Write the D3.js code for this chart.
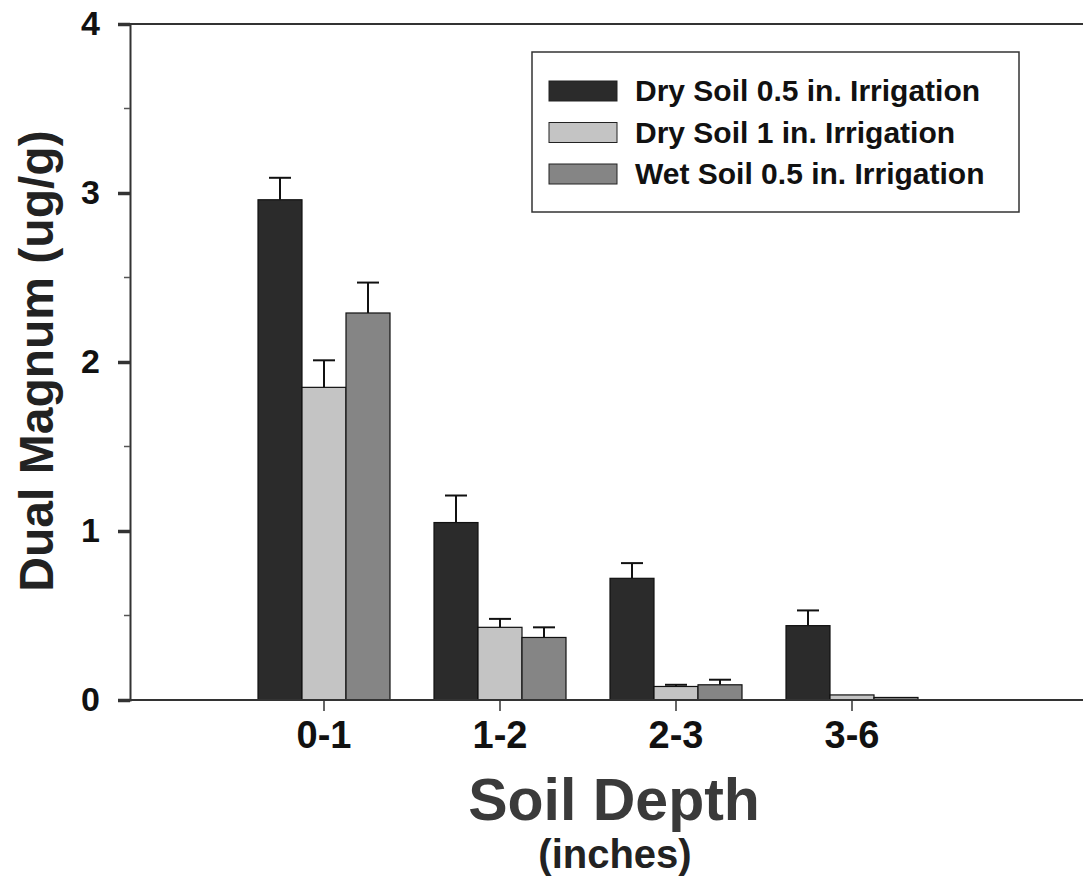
<!DOCTYPE html>
<html>
<head>
<meta charset="utf-8">
<script src="https://cdn.jsdelivr.net/npm/d3@7/dist/d3.min.js"></script>
<style>
  body { margin: 0; background: #fff; }
  text { font-family: "Liberation Sans", Arial, sans-serif; font-weight: bold; }
</style>
</head>
<body>
<svg id="chart" width="1083" height="878"></svg>
<script>
// data
var depths = ["0-1", "1-2", "2-3", "3-6"];
var seriesNames = ["Dry Soil 0.5 in. Irrigation", "Dry Soil 1 in. Irrigation", "Wet Soil 0.5 in. Irrigation"];
var drySoil05 = [2.96, 1.05, 0.72, 0.44];
var drySoil1 = [1.85, 0.43, 0.08, 0.03];
var wetSoil05 = [2.29, 0.37, 0.09, 0.015];
var drySoil05Err = [0.13, 0.16, 0.09, 0.09];
var drySoil1Err = [0.16, 0.05, 0.01, 0];
var wetSoil05Err = [0.18, 0.06, 0.03, 0];
var yTicks = [0, 1, 2, 3, 4];
var yMinor = [0.5, 1.5, 2.5, 3.5];

var values = [drySoil05, drySoil1, wetSoil05];
var errs = [drySoil05Err, drySoil1Err, wetSoil05Err];
var colors = ["#2b2b2b", "#c4c4c4", "#858585"];

var svg = d3.select("svg");

var plotLeft = 130, plotRight = 1083, plotTop = 24, plotBottom = 700;

var y = d3.scaleLinear().domain([0, 4]).range([plotBottom, plotTop]);
var x0 = d3.scaleBand().domain(depths).range([236, 940])
  .paddingInner(0.25).paddingOuter(0.125);
var x1 = d3.scaleBand().domain(d3.range(3)).range([0, x0.bandwidth()]);

// bars
var groups = svg.selectAll("g.grp")
  .data(depths)
  .enter().append("g")
  .attr("class", "grp")
  .attr("transform", function(d){ return "translate(" + x0(d) + ",0)"; });

groups.each(function(d, i){
  var g = d3.select(this);
  for(var s = 0; s < 3; s++){
    var v = values[s][i];
    var e = errs[s][i];
    var bx = x1(s);
    if(e > 0){
      var cx = bx + x1.bandwidth()/2;
      g.append("line")
        .attr("x1", cx).attr("x2", cx)
        .attr("y1", y(v)).attr("y2", y(v + e))
        .attr("stroke", "#111").attr("stroke-width", 2);
      g.append("line")
        .attr("x1", cx - 11).attr("x2", cx + 11)
        .attr("y1", y(v + e)).attr("y2", y(v + e))
        .attr("stroke", "#111").attr("stroke-width", 2);
    }
    g.append("rect")
      .attr("x", bx).attr("width", x1.bandwidth())
      .attr("y", y(v)).attr("height", y(0) - y(v))
      .attr("fill", colors[s])
      .attr("stroke", "#111").attr("stroke-width", 1.2);
  }
});

// frame
svg.append("line").attr("x1", plotLeft).attr("x2", plotRight).attr("y1", plotTop).attr("y2", plotTop)
  .attr("stroke", "#333").attr("stroke-width", 2);
svg.append("line").attr("x1", plotLeft).attr("x2", plotRight).attr("y1", plotBottom).attr("y2", plotBottom)
  .attr("stroke", "#333").attr("stroke-width", 2);

// y axis
var yAxis = d3.axisLeft(y).tickValues(yTicks).tickSize(12).tickPadding(18)
  .tickFormat(d3.format("d"));
var yg = svg.append("g").attr("transform", "translate(" + plotLeft + ",0)").call(yAxis);
yg.select(".domain").attr("stroke", "#333").attr("stroke-width", 2);
yg.selectAll(".tick line").attr("stroke", "#333").attr("stroke-width", 3.5);
yg.selectAll(".tick text").attr("font-size", 34).attr("fill", "#111")
  .attr("font-family", "Liberation Sans, Arial, sans-serif").attr("font-weight", "bold");
svg.selectAll("line.minor").data(yMinor).enter().append("line")
  .attr("class", "minor")
  .attr("x1", plotLeft - 6).attr("x2", plotLeft)
  .attr("y1", function(d){ return y(d); }).attr("y2", function(d){ return y(d); })
  .attr("stroke", "#555").attr("stroke-width", 1.5);

// x axis
var xAxis = d3.axisBottom(x0).tickSize(11).tickPadding(10);
var xg = svg.append("g").attr("transform", "translate(0," + plotBottom + ")").call(xAxis);
xg.select(".domain").remove();
xg.selectAll(".tick line").attr("stroke", "#333").attr("stroke-width", 1.5);
xg.selectAll(".tick text").attr("font-size", 38).attr("fill", "#111")
  .attr("font-family", "Liberation Sans, Arial, sans-serif").attr("font-weight", "bold");

// axis titles
svg.append("text")
  .attr("transform", "translate(53,361) rotate(-90)")
  .attr("text-anchor", "middle")
  .attr("font-size", 48).attr("fill", "#222")
  .text("Dual Magnum (ug/g)");
svg.append("text")
  .attr("x", 614).attr("y", 820)
  .attr("text-anchor", "middle")
  .attr("font-size", 59).attr("fill", "#3a3a3a")
  .text("Soil Depth");
svg.append("text")
  .attr("x", 615).attr("y", 868)
  .attr("text-anchor", "middle")
  .attr("font-size", 40).attr("fill", "#222")
  .text("(inches)");

// legend
var legend = svg.append("g");
legend.append("rect")
  .attr("x", 532).attr("y", 52).attr("width", 487).attr("height", 160)
  .attr("fill", "#fff").attr("stroke", "#333").attr("stroke-width", 1.5);
var rows = legend.selectAll("g.row").data(seriesNames).enter().append("g")
  .attr("class", "row")
  .attr("transform", function(d, i){ return "translate(0," + (91 + i * 41.5) + ")"; });
rows.append("rect")
  .attr("x", 549).attr("y", -10).attr("width", 68).attr("height", 20)
  .attr("fill", function(d, i){ return colors[i]; })
  .attr("stroke", "#222").attr("stroke-width", 1);
rows.append("text")
  .attr("x", 635).attr("y", 10)
  .attr("font-size", 30).attr("fill", "#111")
  .text(function(d){ return d; });
</script>
</body>
</html>
